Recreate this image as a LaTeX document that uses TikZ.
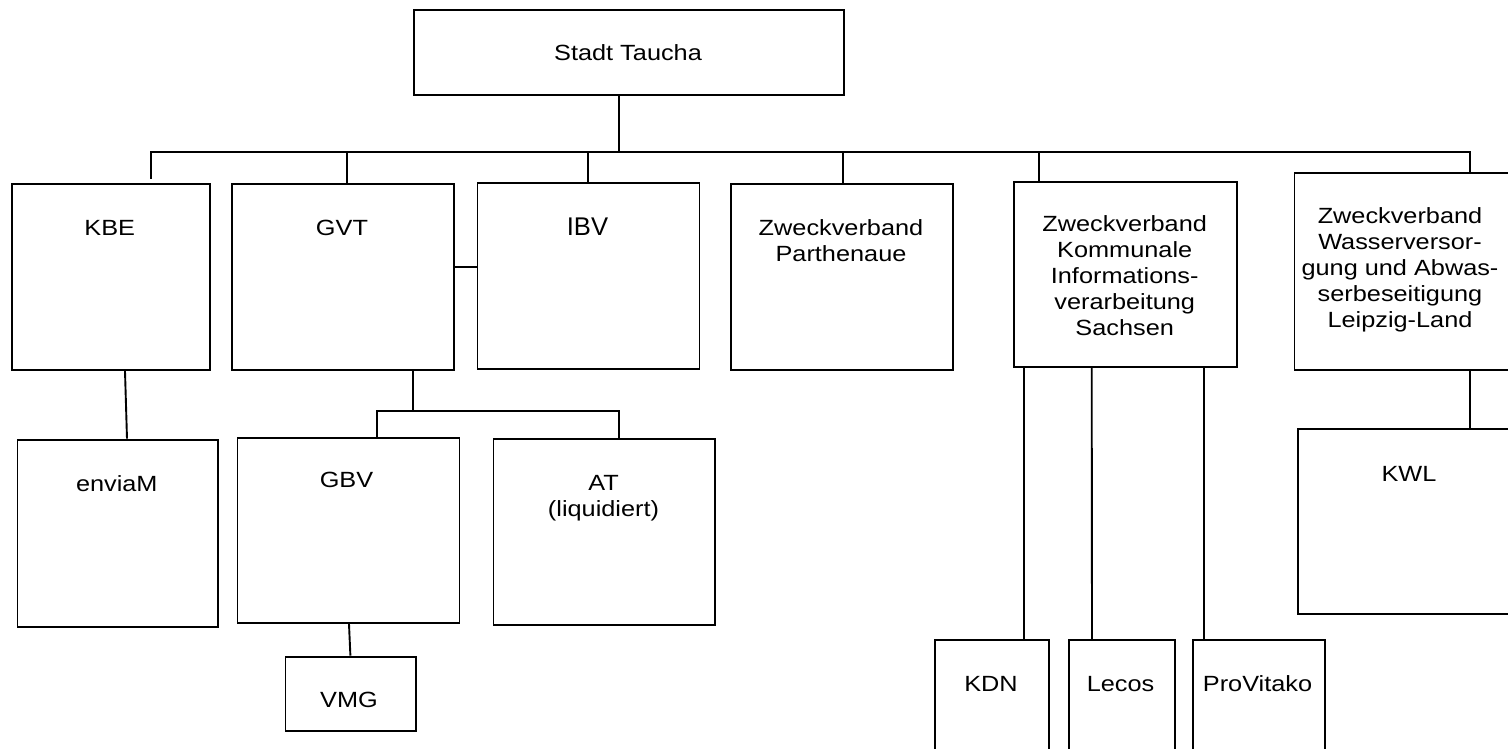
\documentclass[tikz,border=0pt]{standalone}
\usepackage{fontspec}
\setmainfont{Liberation Sans}[FakeStretch=1.15]
\newfontfamily\ibvfont{Liberation Sans}
\usetikzlibrary{calc}
\tikzset{
  obox/.style={draw=black, line width=1.9pt, fill=white, inner sep=0pt, rectangle},
  txt/.style={inner sep=0pt, align=center, anchor=base, font=\fontsize{22}{26}\selectfont},
  conn/.style={draw=black, line width=1.9pt},
}
\newcommand\obox[5]{\node[obox, minimum width={#4-#2}, minimum height={#5-#3}, anchor=north west] (#1) at (#2,#3) {};}
\begin{document}
\begin{tikzpicture}[x=1pt,y=-1pt]
\useasboundingbox (0,0) rectangle (1508,749);
\clip (0,0) rectangle (1508,749);
\fill[white] (0,0) rectangle (1508,749);
% boxes
\obox{root}{412.7}{9.3}{843.3}{94.3}
\obox{kbe}{10.7}{183.3}{208.9}{369.3}
\obox{gvt}{230.7}{183}{453.2}{369}
\obox{ibv}{476.5}{182}{698.5}{368}
\obox{zp}{730}{183.3}{952}{369.3}
\obox{zkis}{1013.3}{180.7}{1236.2}{366}
\obox{zwa}{1293.5}{171.7}{1520}{369.3}
\obox{envia}{16.5}{438.7}{217.1}{625.7}
\obox{gbv}{236.5}{436.7}{458.5}{622.3}
\obox{at}{492.5}{438.3}{714.4}{624}
\obox{vmg}{284.5}{655.7}{414.9}{730}
\obox{kdn}{934}{639}{1048.2}{770}
\obox{lecos}{1067.8}{639}{1174.3}{770}
\obox{provitako}{1191.8}{639}{1324.1}{770}
\obox{kwl}{1297.3}{428.3}{1520}{613.3}
% texts (anchor base = baseline of the last line)
\node[txt] (t-root) at (628,60.9) {Stadt Taucha};
\node[txt] (t-kbe) at (109.8,235.6) {KBE};
\node[txt] (t-gvt) at (342,235.6) {GVT};
\node[txt, font=\ibvfont\fontsize{25.6}{26}\selectfont] (t-ibv) at (587.5,235.9) {IBV};
\node[txt] (t-zp) at (841,261.2) {Zweckverband\\Parthenaue};
\node[txt] (t-zkis) at (1124.7,335.9) {Zweckverband\\Kommunale\\Informations-\\verarbeitung\\Sachsen};
\node[txt] (t-zwa) at (1400,327.2) {Zweckverband\\Wasserversor-\\gung und Abwas-\\serbeseitigung\\Leipzig-Land};
\node[txt] (t-envia) at (116.8,491.2) {enviaM};
\node[txt] (t-gbv) at (346.5,487.9) {GBV};
\node[txt] (t-at) at (603.5,516) {AT\\(liquidiert)};
\node[txt] (t-vmg) at (349,707.9) {VMG};
\node[txt] (t-kdn) at (991,691.2) {KDN};
\node[txt] (t-lecos) at (1120.5,691.2) {Lecos};
\node[txt] (t-provitako) at (1257.5,691.2) {ProVitako};
\node[txt] (t-kwl) at (1409,481.2) {KWL};
% junction coordinates
\coordinate (rj) at (619,152);
\coordinate (jk) at (151,152);
\coordinate (jg) at (347,152);
\coordinate (ji) at (588,152);
\coordinate (jp) at (843,152);
\coordinate (jz) at (1039,152);
\coordinate (jw) at (1470,152);
\coordinate (gl) at (460,267);
\coordinate (sb) at (413,410.7);
\coordinate (sl) at (377,410.7);
\coordinate (sr) at (619.4,410.7);
% connectors
\draw[conn] (root.south -| rj) -- (rj);
\draw[conn, line cap=rect] (jk |- kbe.north) ++(0,-5) -- (jk) -- (jw) -- (jw |- zwa.north);
\draw[conn] (jg) -- (jg |- gvt.north);
\draw[conn] (ji) -- (ji |- ibv.north);
\draw[conn] (jp) -- (jp |- zp.north);
\draw[conn] (jz) -- (jz |- zkis.north);
\draw[conn] (gl -| gvt.east) -- (gl -| ibv.west);
\draw[conn] ($(kbe.south west)+(114.3,0)$) -- ($(envia.north west)+(110.5,0)$);
\draw[conn] (sb |- gvt.south) -- (sb);
\draw[conn] (sl |- gbv.north) -- (sl) -- (sr) -- (sr |- at.north);
\draw[conn] ($(gbv.south west)+(112.5,0)$) -- ($(vmg.north west)+(65.9,0)$);
\draw[conn] ($(zkis.south west)+(10.8,0)$) -- ($(kdn.north west)+(90.1,0)$);
\draw[conn] ($(zkis.south west)+(78.4,0)$) -- ($(lecos.north west)+(24.2,0)$);
\draw[conn] ($(zkis.south west)+(190.3,0)$) -- ($(provitako.north west)+(11.8,0)$);
\draw[conn] (jw |- zwa.south) -- (jw |- kwl.north);
\end{tikzpicture}
\end{document}
